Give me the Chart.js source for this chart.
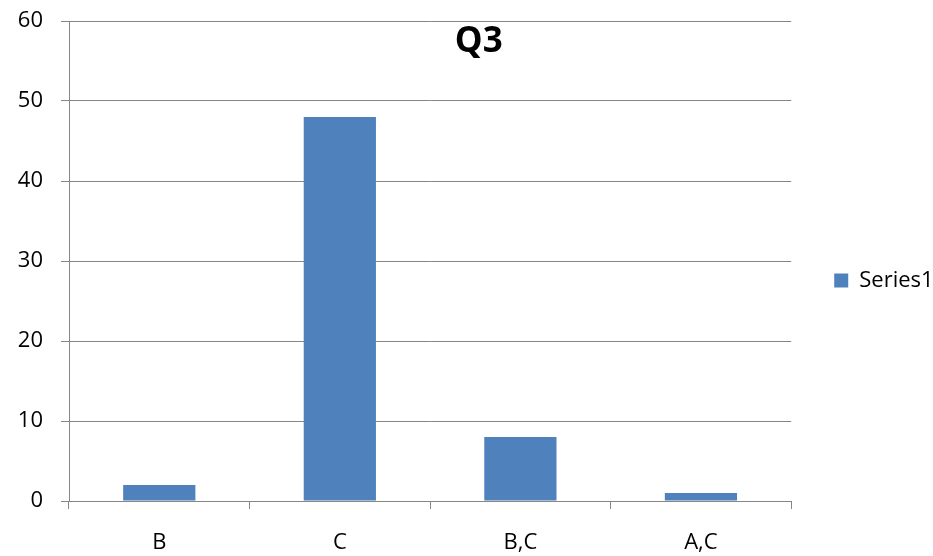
<!DOCTYPE html>
<html>
<head>
<meta charset="utf-8">
<script src="https://cdn.jsdelivr.net/npm/chart.js@4"></script>
<style>
  html, body { margin: 0; padding: 0; background: #ffffff; }
  #wrap { width: 933px; height: 556px; }
</style>
</head>
<body>
<div id="wrap"><canvas id="c" width="933" height="556"></canvas></div>
<script>
const categories = ["B", "C", "B,C", "A,C"];
const seriesName = "Series1";
const seriesValues = [2, 48, 8, 1];
const yTicks = [0, 10, 20, 30, 40, 50, 60];
const chartTitle = "Q3";

const FONT = "'Open Sans', 'DejaVu Sans', sans-serif";
const GRID = "#868686";
const BAR = "#4F81BD";

new Chart(document.getElementById("c"), {
  type: "bar",
  data: {
    labels: categories,
    datasets: [{
      label: seriesName,
      data: seriesValues,
      backgroundColor: BAR,
      borderWidth: 0,
      barPercentage: 0.4,
      categoryPercentage: 1.0
    }]
  },
  options: {
    responsive: false,
    animation: false,
    devicePixelRatio: 1,
    layout: { padding: { top: 5, left: 14, right: -10.6, bottom: 0 } },
    plugins: {
      tooltip: { enabled: false },
      title: {
        display: true,
        text: chartTitle,
        color: "#000000",
        font: { family: FONT, size: 35, weight: "bold", lineHeight: 1.2 },
        padding: { top: 16, bottom: -42 }
      },
      legend: {
        display: true,
        position: "right",
        labels: {
          boxWidth: 14,
          boxHeight: 14,
          padding: 43,
          color: "#000000",
          font: { family: FONT, size: 22 }
        }
      }
    },
    scales: {
      x: {
        type: "category",
        offset: true,
        grid: {
          offset: true,
          drawOnChartArea: false,
          drawTicks: true,
          tickLength: 8,
          color: GRID,
          lineWidth: 1
        },
        border: { display: true, color: GRID, width: 1 },
        ticks: {
          color: "#000000",
          font: { family: FONT, size: 22 },
          padding: 21,
          maxRotation: 0,
          autoSkip: false
        },
        afterFit: (s) => { s.height = 55; s.paddingLeft = 0; s.paddingRight = 0; }
      },
      y: {
        min: yTicks[0],
        max: yTicks[yTicks.length - 1],
        afterBuildTicks: (s) => { s.ticks = yTicks.map(v => ({ value: v })); },
        grid: {
          drawTicks: true,
          tickLength: 8,
          color: GRID,
          lineWidth: 1
        },
        border: { display: true, color: GRID, width: 1 },
        ticks: {
          color: "#000000",
          font: { family: FONT, size: 22 },
          padding: 18
        },
        afterFit: (s) => { s.width = 55; s.paddingTop = 0; s.paddingBottom = 0; }
      }
    }
  }
});
</script>
</body>
</html>
